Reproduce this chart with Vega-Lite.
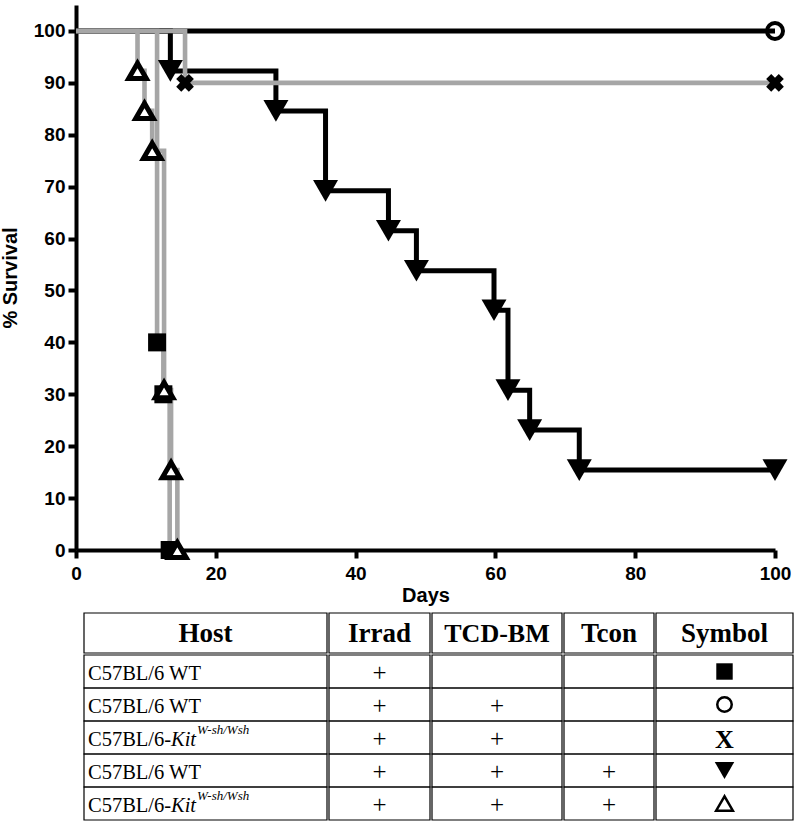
{
  "$schema": "https://vega.github.io/schema/vega-lite/v6.json",
  "padding": {"left": 0, "top": 5, "right": 4, "bottom": 8},
  "bounds": "flush",
  "spacing": 63,
  "config": {
    "view": {"stroke": null},
    "font": "Liberation Sans",
    "text": {"color": "black"},
    "axis": {
      "labelFont": "Liberation Sans", "labelFontWeight": "bold", "labelFontSize": 19, "labelColor": "black",
      "titleFont": "Liberation Sans", "titleFontWeight": "bold", "titleFontSize": 20, "titleColor": "black",
      "domainColor": "black", "domainWidth": 4, "tickColor": "black", "tickWidth": 4, "tickSize": 8,
      "grid": false, "labelFlush": false
    }
  },
  "datasets": {
    "surv": [
      {"group": "WT irrad", "day": 0, "survival": 100, "event": false},
      {"group": "WT irrad", "day": 11.6, "survival": 40, "event": true},
      {"group": "WT irrad", "day": 12.5, "survival": 30, "event": true},
      {"group": "WT irrad", "day": 13.4, "survival": 0, "event": true},
      {"group": "WT irrad+BM", "day": 0, "survival": 100, "event": false},
      {"group": "WT irrad+BM", "day": 100, "survival": 100, "event": true},
      {"group": "Kit irrad+BM", "day": 0, "survival": 100, "event": false},
      {"group": "Kit irrad+BM", "day": 15.6, "survival": 90, "event": true},
      {"group": "Kit irrad+BM", "day": 100, "survival": 90, "event": true},
      {"group": "WT irrad+BM+Tcon", "day": 0, "survival": 100, "event": false},
      {"group": "WT irrad+BM+Tcon", "day": 13.5, "survival": 92.3, "event": true},
      {"group": "WT irrad+BM+Tcon", "day": 28.6, "survival": 84.6, "event": true},
      {"group": "WT irrad+BM+Tcon", "day": 35.7, "survival": 69.2, "event": true},
      {"group": "WT irrad+BM+Tcon", "day": 44.7, "survival": 61.5, "event": true},
      {"group": "WT irrad+BM+Tcon", "day": 48.7, "survival": 53.8, "event": true},
      {"group": "WT irrad+BM+Tcon", "day": 59.8, "survival": 46.2, "event": true},
      {"group": "WT irrad+BM+Tcon", "day": 61.8, "survival": 30.8, "event": true},
      {"group": "WT irrad+BM+Tcon", "day": 64.9, "survival": 23.1, "event": true},
      {"group": "WT irrad+BM+Tcon", "day": 72, "survival": 15.4, "event": true},
      {"group": "WT irrad+BM+Tcon", "day": 100, "survival": 15.4, "event": true},
      {"group": "Kit irrad+BM+Tcon", "day": 0, "survival": 100, "event": false},
      {"group": "Kit irrad+BM+Tcon", "day": 8.8, "survival": 92.3, "event": true},
      {"group": "Kit irrad+BM+Tcon", "day": 9.8, "survival": 84.6, "event": true},
      {"group": "Kit irrad+BM+Tcon", "day": 10.9, "survival": 76.9, "event": true},
      {"group": "Kit irrad+BM+Tcon", "day": 12.6, "survival": 30.8, "event": true},
      {"group": "Kit irrad+BM+Tcon", "day": 13.6, "survival": 15.4, "event": true},
      {"group": "Kit irrad+BM+Tcon", "day": 14.5, "survival": 0, "event": true}
    ],
    "table": [
      {"row": 1, "host": "C57BL/6 WT", "kit": "", "sup": "", "irrad": "+", "tcd": "", "tcon": "", "group": "WT irrad"},
      {"row": 2, "host": "C57BL/6 WT", "kit": "", "sup": "", "irrad": "+", "tcd": "+", "tcon": "", "group": "WT irrad+BM"},
      {"row": 3, "host": "C57BL/6-", "kit": "Kit", "sup": "W-sh/Wsh", "irrad": "+", "tcd": "+", "tcon": "", "group": "Kit irrad+BM"},
      {"row": 4, "host": "C57BL/6 WT", "kit": "", "sup": "", "irrad": "+", "tcd": "+", "tcon": "+", "group": "WT irrad+BM+Tcon"},
      {"row": 5, "host": "C57BL/6-", "kit": "Kit", "sup": "W-sh/Wsh", "irrad": "+", "tcd": "+", "tcon": "+", "group": "Kit irrad+BM+Tcon"}
    ]
  },
  "vconcat": [
    {
      "width": 699,
      "height": 545,
      "data": {"name": "surv"},
      "encoding": {
        "x": {"field": "day", "type": "quantitative", "scale": {"domain": [0, 100], "nice": false},
              "axis": {"values": [0, 20, 40, 60, 80, 100], "title": "Days", "labelPadding": 6, "titlePadding": 2}},
        "y": {"field": "survival", "type": "quantitative", "scale": {"domain": [0, 105], "nice": false},
              "axis": {"values": [0, 10, 20, 30, 40, 50, 60, 70, 80, 90, 100], "title": "% Survival", "labelPadding": 3, "titlePadding": 13}}
      },
      "layer": [
        {
          "transform": [{"filter": {"field": "group", "oneOf": ["WT irrad+BM", "WT irrad+BM+Tcon"]}}],
          "mark": {"type": "line", "interpolate": "step-after", "color": "black", "strokeWidth": 5},
          "encoding": {"detail": {"field": "group"}}
        },
        {
          "transform": [{"filter": {"field": "group", "oneOf": ["WT irrad", "Kit irrad+BM", "Kit irrad+BM+Tcon"]}}],
          "mark": {"type": "line", "interpolate": "step-after", "color": "#a6a6a6", "strokeWidth": 4.6},
          "encoding": {"detail": {"field": "group"}}
        },
        {
          "transform": [{"filter": "datum.event && datum.group == 'WT irrad'"}],
          "mark": {"type": "point", "shape": "square", "filled": true, "color": "black", "opacity": 1, "size": 324}
        },
        {
          "transform": [{"filter": "datum.event && datum.group == 'WT irrad+BM'"}],
          "mark": {"type": "point", "shape": "circle", "filled": false, "color": "black", "opacity": 1, "size": 256, "strokeWidth": 4}
        },
        {
          "transform": [{"filter": "datum.event && datum.group == 'Kit irrad+BM'"}],
          "mark": {"type": "point", "shape": "cross", "filled": true, "color": "black", "opacity": 1, "size": 320, "angle": 45}
        },
        {
          "transform": [{"filter": "datum.event && datum.group == 'WT irrad+BM+Tcon'"}],
          "mark": {"type": "point", "shape": "triangle-down", "filled": true, "color": "black", "opacity": 1, "size": 625}
        },
        {
          "transform": [{"filter": "datum.event && datum.group == 'Kit irrad+BM+Tcon'"}],
          "mark": {"type": "point", "shape": "triangle-up", "fill": "white", "fillOpacity": 1, "stroke": "black", "opacity": 1, "size": 310, "strokeWidth": 5}
        }
      ]
    },
    {
      "spacing": 0,
      "hconcat": [
        {
          "width": 7, "height": 205,
          "data": {"values": [{}]},
          "mark": {"type": "text", "text": ""}
        },
        {
          "spacing": 0,
          "vconcat": [
            {
              "spacing": 0,
              "hconcat": [
                {"width": 243, "height": 40, "data": {"values": [{}]},
                 "layer": [
                   {"mark": {"type": "rect", "fill": "white", "fillOpacity": 0, "stroke": "black", "strokeWidth": 1.2}},
                   {"mark": {"type": "text", "text": "Host", "color": "black", "font": "Liberation Serif", "fontWeight": "bold", "fontSize": 27, "baseline": "middle", "dy": 1}}
                 ]},
                {"width": 101, "height": 40, "data": {"values": [{}]},
                 "layer": [
                   {"mark": {"type": "rect", "fill": "white", "fillOpacity": 0, "stroke": "black", "strokeWidth": 1.2}},
                   {"mark": {"type": "text", "text": "Irrad", "color": "black", "font": "Liberation Serif", "fontWeight": "bold", "fontSize": 27, "baseline": "middle", "dy": 1}}
                 ]},
                {"width": 130, "height": 40, "data": {"values": [{}]},
                 "layer": [
                   {"mark": {"type": "rect", "fill": "white", "fillOpacity": 0, "stroke": "black", "strokeWidth": 1.2}},
                   {"mark": {"type": "text", "text": "TCD-BM", "color": "black", "font": "Liberation Serif", "fontWeight": "bold", "fontSize": 26, "baseline": "middle", "dy": 1}}
                 ]},
                {"width": 90, "height": 40, "data": {"values": [{}]},
                 "layer": [
                   {"mark": {"type": "rect", "fill": "white", "fillOpacity": 0, "stroke": "black", "strokeWidth": 1.2}},
                   {"mark": {"type": "text", "text": "Tcon", "color": "black", "font": "Liberation Serif", "fontWeight": "bold", "fontSize": 27, "baseline": "middle", "dy": 1}}
                 ]},
                {"width": 137, "height": 40, "data": {"values": [{}]},
                 "layer": [
                   {"mark": {"type": "rect", "fill": "white", "fillOpacity": 0, "stroke": "black", "strokeWidth": 1.2}},
                   {"mark": {"type": "text", "text": "Symbol", "color": "black", "font": "Liberation Serif", "fontWeight": "bold", "fontSize": 27, "baseline": "middle", "dy": 1}}
                 ]}
              ]
            },
            {
              "spacing": 0,
              "hconcat": [
                {"width": 243, "height": 165, "data": {"name": "table"},
                 "encoding": {"y": {"field": "row", "type": "ordinal", "scale": {"paddingInner": 0, "paddingOuter": 0}, "axis": null}},
                 "layer": [
                   {"mark": {"type": "rect", "fill": "white", "fillOpacity": 0, "stroke": "black", "strokeWidth": 1.2}},
                   {"mark": {"type": "text", "color": "black", "font": "Liberation Serif", "fontSize": 20.5, "align": "left", "baseline": "middle", "dx": 4, "dy": 2},
                    "encoding": {"x": {"value": 0}, "text": {"field": "host"}}},
                   {"mark": {"type": "text", "color": "black", "font": "Liberation Serif", "fontSize": 20.5, "fontStyle": "italic", "align": "left", "baseline": "middle", "dx": 87, "dy": 2},
                    "encoding": {"x": {"value": 0}, "text": {"field": "kit"}}},
                   {"mark": {"type": "text", "color": "black", "font": "Liberation Serif", "fontSize": 13, "fontStyle": "italic", "align": "left", "baseline": "middle", "dx": 113, "dy": -8},
                    "encoding": {"x": {"value": 0}, "text": {"field": "sup"}}}
                 ]},
                {"width": 101, "height": 165, "data": {"name": "table"},
                 "encoding": {"y": {"field": "row", "type": "ordinal", "scale": {"paddingInner": 0, "paddingOuter": 0}, "axis": null}},
                 "layer": [
                   {"mark": {"type": "rect", "fill": "white", "fillOpacity": 0, "stroke": "black", "strokeWidth": 1.2}},
                   {"mark": {"type": "text", "color": "black", "font": "Liberation Serif", "fontSize": 25, "baseline": "middle", "dy": 1},
                    "encoding": {"text": {"field": "irrad"}}}
                 ]},
                {"width": 130, "height": 165, "data": {"name": "table"},
                 "encoding": {"y": {"field": "row", "type": "ordinal", "scale": {"paddingInner": 0, "paddingOuter": 0}, "axis": null}},
                 "layer": [
                   {"mark": {"type": "rect", "fill": "white", "fillOpacity": 0, "stroke": "black", "strokeWidth": 1.2}},
                   {"mark": {"type": "text", "color": "black", "font": "Liberation Serif", "fontSize": 25, "baseline": "middle", "dy": 1},
                    "encoding": {"text": {"field": "tcd"}}}
                 ]},
                {"width": 90, "height": 165, "data": {"name": "table"},
                 "encoding": {"y": {"field": "row", "type": "ordinal", "scale": {"paddingInner": 0, "paddingOuter": 0}, "axis": null}},
                 "layer": [
                   {"mark": {"type": "rect", "fill": "white", "fillOpacity": 0, "stroke": "black", "strokeWidth": 1.2}},
                   {"mark": {"type": "text", "color": "black", "font": "Liberation Serif", "fontSize": 25, "baseline": "middle", "dy": 1},
                    "encoding": {"text": {"field": "tcon"}}}
                 ]},
                {"width": 137, "height": 165, "data": {"name": "table"},
                 "encoding": {"y": {"field": "row", "type": "ordinal", "scale": {"paddingInner": 0, "paddingOuter": 0}, "axis": null}},
                 "layer": [
                   {"mark": {"type": "rect", "fill": "white", "fillOpacity": 0, "stroke": "black", "strokeWidth": 1.2}},
                   {"transform": [{"filter": "datum.group == 'WT irrad'"}],
                    "mark": {"type": "point", "shape": "square", "filled": true, "color": "black", "opacity": 1, "size": 270}},
                   {"transform": [{"filter": "datum.group == 'WT irrad+BM'"}],
                    "mark": {"type": "point", "shape": "circle", "filled": false, "color": "black", "opacity": 1, "size": 210, "strokeWidth": 2.5}},
                   {"transform": [{"filter": "datum.group == 'Kit irrad+BM'"}],
                    "mark": {"type": "text", "text": "X", "color": "black", "font": "Liberation Serif", "fontWeight": "bold", "fontSize": 26, "baseline": "middle", "dy": 2}},
                   {"transform": [{"filter": "datum.group == 'WT irrad+BM+Tcon'"}],
                    "mark": {"type": "point", "shape": "triangle-down", "filled": true, "color": "black", "opacity": 1, "size": 380}},
                   {"transform": [{"filter": "datum.group == 'Kit irrad+BM+Tcon'"}],
                    "mark": {"type": "point", "shape": "triangle-up", "filled": false, "color": "black", "opacity": 1, "size": 280, "strokeWidth": 2.5}}
                 ]}
              ]
            }
          ]
        }
      ]
    }
  ]
}
